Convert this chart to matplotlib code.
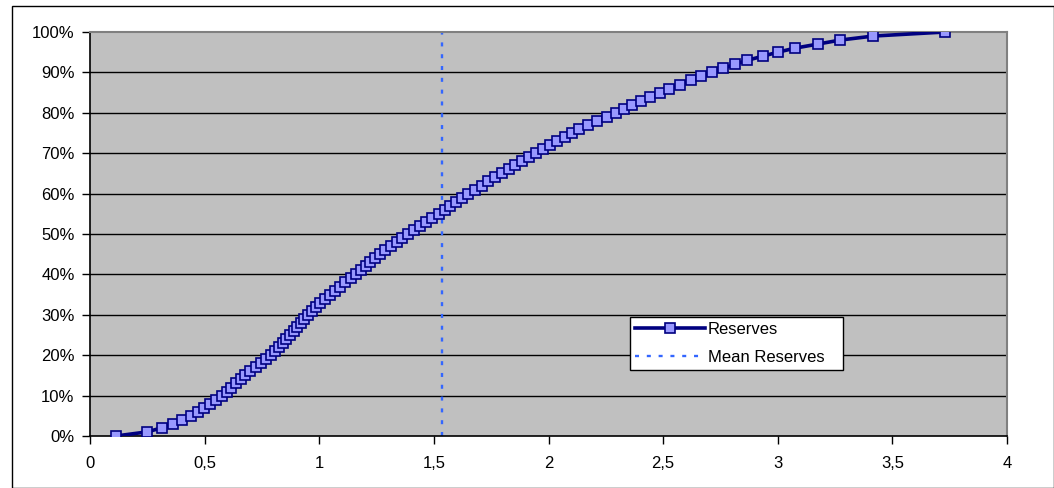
import matplotlib
matplotlib.use("Agg")
import matplotlib.pyplot as plt
from matplotlib.patches import Rectangle
from matplotlib.ticker import FixedLocator, FuncFormatter

plt.rcParams['font.family'] = ['Liberation Sans', 'DejaVu Sans']

# Cumulative probability (%) and reserves values
cum_pct = list(range(0, 101))
reserves = [
    0.113, 0.247, 0.313, 0.363, 0.403, 0.439, 0.470, 0.497, 0.525, 0.550,
    0.576, 0.597, 0.617, 0.638, 0.657, 0.677, 0.700, 0.722, 0.744, 0.767,
    0.788, 0.807, 0.824, 0.840, 0.856, 0.872, 0.888, 0.904, 0.919, 0.935,
    0.951, 0.968, 0.986, 1.005, 1.026, 1.047, 1.069, 1.091, 1.114, 1.137,
    1.160, 1.181, 1.202, 1.223, 1.244, 1.265, 1.288, 1.312, 1.337, 1.362,
    1.387, 1.413, 1.440, 1.467, 1.494, 1.521, 1.547, 1.572, 1.598, 1.623,
    1.649, 1.678, 1.708, 1.737, 1.767, 1.797, 1.826, 1.856, 1.886, 1.915,
    1.945, 1.976, 2.007, 2.038, 2.070, 2.101, 2.135, 2.172, 2.213, 2.254,
    2.293, 2.329, 2.366, 2.404, 2.443, 2.486, 2.527, 2.574, 2.620, 2.665,
    2.715, 2.763, 2.813, 2.867, 2.934, 3.000, 3.075, 3.174, 3.272, 3.417,
    3.730,
]
mean_reserves = 1.535
mean_line_pct = [0, 100]

x_ticks = [0, 0.5, 1, 1.5, 2, 2.5, 3, 3.5, 4]
y_ticks = [0, 10, 20, 30, 40, 50, 60, 70, 80, 90, 100]

W, H = 1054, 488
fig = plt.figure(figsize=(W / 100, H / 100), dpi=100)
ax = fig.add_axes([90 / W, 1 - 436 / H, (1007 - 90) / W, (436 - 32) / H])
ax.set_facecolor('#C0C0C0')

for yt in y_ticks[1:-1]:
    ax.axhline(yt, color='black', lw=1.0, zorder=1)

ax.plot([mean_reserves, mean_reserves], mean_line_pct, color='#3366FF',
        lw=1.7, linestyle=(0, (1.7, 3.3)), zorder=2, label='Mean Reserves')
ax.plot(reserves, cum_pct, color='#000080', lw=2.6, marker='s', markersize=6.5,
        markerfacecolor='#9999FF', markeredgecolor='#000080', markeredgewidth=1.2,
        zorder=3, label='Reserves')

ax.set_xlim(0, 4)
ax.set_ylim(0, 100)
ax.xaxis.set_major_locator(FixedLocator(x_ticks))
ax.yaxis.set_major_locator(FixedLocator(y_ticks))
ax.xaxis.set_major_formatter(FuncFormatter(lambda v, p: ('%g' % v).replace('.', ',')))
ax.yaxis.set_major_formatter(FuncFormatter(lambda v, p: '%d%%' % v))
ax.tick_params(axis='both', direction='out', length=5.5, width=1, color='black',
               labelsize=12, labelcolor='black')
ax.tick_params(axis='y', pad=5.6)
ax.tick_params(axis='x', pad=9)

for s in ['left', 'bottom']:
    ax.spines[s].set_color('black')
    ax.spines[s].set_linewidth(1.2)
for s in ['top', 'right']:
    ax.spines[s].set_color('#808080')
    ax.spines[s].set_linewidth(1.5)

handles, labels = ax.get_legend_handles_labels()
order = [1, 0]
leg = ax.legend([handles[i] for i in order], [labels[i] for i in order],
                loc='lower left', bbox_to_anchor=(0.589, 0.163, 0.232, 0.141),
                mode='expand', frameon=True, fancybox=False, framealpha=1,
                edgecolor='black', facecolor='white', fontsize=12,
                handlelength=4.2, handletextpad=0.15, borderpad=0.3,
                labelspacing=0.8, borderaxespad=0)
leg.get_frame().set_linewidth(1.0)

fig.patches.append(Rectangle((12 / W, 0.5 / H), (W - 12.5) / W, (H - 6.5) / H,
                             transform=fig.transFigure, fill=False,
                             edgecolor='black', lw=1.0))

fig.savefig('out.png', dpi=100)
